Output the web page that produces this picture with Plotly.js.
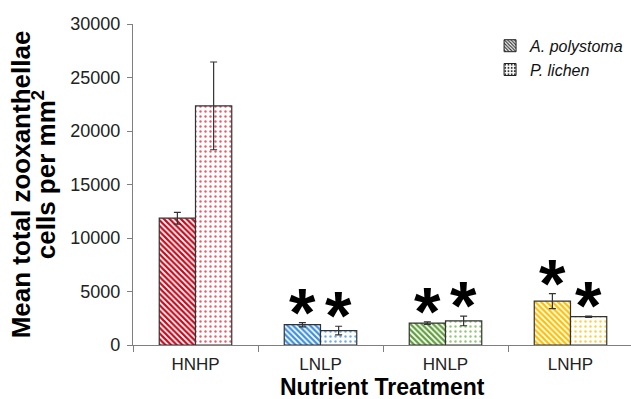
<!DOCTYPE html>
<html>
<head>
<meta charset="utf-8">
<script src="https://cdn.plot.ly/plotly-3.0.1.min.js"></script>
<style>
  html, body { margin: 0; padding: 0; background: #fff; }
  #chart { width: 631px; height: 399px; }
</style>
</head>
<body>
<div id="chart"></div>
<script>
// ---- data ----
const categories = ['HNHP', 'LNLP', 'HNLP', 'LNHP'];
const seriesNames = ['A. polystoma', 'P. lichen'];
const polystomaMean = [11850, 1900, 2050, 4100];
const polystomaErr = [550, 200, 120, 700];
const lichenMean = [22350, 1350, 2250, 2650];
const lichenErr = [4100, 400, 450, 60];
const polystomaSig = [false, true, true, true];
const lichenSig = [false, true, true, true];
const yTickVals = [0, 5000, 10000, 15000, 20000, 25000, 30000];
const yTickText = ['0', '5000', '10000', '15000', '20000', '25000', '30000'];
const xTitle = 'Nutrient Treatment';

// ---- styles ----
const stripeColors = ['#c8081c', '#3d8fe0', '#5f9e3a', '#ffc000'];
const dotColors = ['#ee5a66', '#6aaeee', '#92c872', '#ffcf40'];
const outline = '#333333';
const FONT = 'Liberation Sans, Arial, sans-serif';
const BARGAP = 0.42;

const traces = [
  {
    type: 'bar', name: seriesNames[0], x: categories, y: polystomaMean, showlegend: false,
    marker: {
      color: '#ffffff',
      line: { color: outline, width: 1.2 },
      pattern: { shape: '\\', fgcolor: stripeColors, bgcolor: '#ffffff', size: 4, solidity: 0.55 }
    },
    error_y: { type: 'data', array: polystomaErr, visible: true, color: outline, thickness: 1.2, width: 3.5 }
  },
  {
    type: 'bar', name: seriesNames[1], x: categories, y: lichenMean, showlegend: false,
    marker: {
      color: '#ffffff',
      line: { color: outline, width: 1.2 },
      pattern: { shape: '.', fgcolor: dotColors, bgcolor: '#ffffff', size: 5, solidity: 0.18 }
    },
    error_y: { type: 'data', array: lichenErr, visible: true, color: outline, thickness: 1.2, width: 3.5 }
  },
  // legend-only proxies (grey swatches, drawn off-range on hidden overlay axes)
  {
    type: 'bar', name: seriesNames[0], x: [0.5], y: [1], base: [-3], xaxis: 'x2', yaxis: 'y2',
    marker: { color: '#ffffff', line: { color: '#222', width: 1 },
      pattern: { shape: '\\', fgcolor: '#333333', bgcolor: '#ffffff', size: 3, solidity: 0.5 } }
  },
  {
    type: 'bar', name: seriesNames[1], x: [0.5], y: [1], base: [-3], xaxis: 'x2', yaxis: 'y2',
    marker: { color: '#ffffff', line: { color: '#222', width: 1 },
      pattern: { shape: '.', fgcolor: '#333333', bgcolor: '#ffffff', size: 4, solidity: 0.3 } }
  }
];

// significance stars, positioned from data
const halfW = (1 - BARGAP) / 4;
const annotations = [];
categories.forEach((c, i) => {
  if (polystomaSig[i]) annotations.push({
    x: i - halfW, y: polystomaMean[i] + polystomaErr[i], xref: 'x', yref: 'y',
    text: '*', showarrow: false, yanchor: 'middle', yshift: 11,
    font: { family: FONT, size: 68, color: '#000', weight: 'bold' }
  });
  if (lichenSig[i]) annotations.push({
    x: i + halfW, y: lichenMean[i] + lichenErr[i], xref: 'x', yref: 'y',
    text: '*', showarrow: false, yanchor: 'middle', yshift: 11,
    font: { family: FONT, size: 68, color: '#000', weight: 'bold' }
  });
});
// second line of y-axis title
annotations.push({
  xref: 'paper', yref: 'paper', x: -0.176, y: 0.53, xanchor: 'center', yanchor: 'middle',
  text: 'cells per mm<sup>2</sup>', textangle: -90, showarrow: false,
  font: { family: FONT, size: 26, color: '#000', weight: 'bold' }
});
// x-axis title, set low in the bottom margin as in the reference
annotations.push({
  xref: 'paper', yref: 'paper', x: 0.5, y: -0.168, xanchor: 'center', yanchor: 'bottom',
  yshift: -3, text: xTitle, showarrow: false,
  font: { family: FONT, size: 23, color: '#000', weight: 'bold' }
});

const layout = {
  width: 631, height: 399,
  margin: { l: 133, r: 0, t: 24, b: 54 },
  paper_bgcolor: '#ffffff', plot_bgcolor: '#ffffff',
  barmode: 'group', bargap: BARGAP, bargroupgap: 0,
  font: { family: FONT, color: '#222' },
  showlegend: true,
  legend: {
    x: 0.717, y: 0.985, xanchor: 'left', yanchor: 'top',
    font: { family: FONT, size: 16, color: '#111', style: 'italic' },
    itemwidth: 30, traceorder: 'normal',
    bgcolor: 'rgba(0,0,0,0)'
  },
  xaxis: {
    type: 'category', range: [-0.5, 3.484],
    showline: true, linecolor: '#7f7f7f', linewidth: 1.2,
    ticks: 'outside', tickson: 'boundaries', ticklen: 6, tickcolor: '#7f7f7f',
    tickfont: { family: FONT, size: 17, color: '#222' },
    ticklabelstandoff: 3,
    showgrid: false, zeroline: false
  },
  yaxis: {
    range: [0, 30000], tickvals: yTickVals, ticktext: yTickText,
    showline: true, linecolor: '#7f7f7f', linewidth: 1.2,
    ticks: 'outside', ticklen: 5, tickcolor: '#7f7f7f',
    tickfont: { family: FONT, size: 18, color: '#222' },
    ticklabelstandoff: 3,
    showgrid: false, zeroline: false,
    title: { text: 'Mean total zooxanthellae', standoff: 32,
      font: { family: FONT, size: 26, color: '#000', weight: 'bold' } }
  },
  yaxis3: {
    overlaying: 'y', matches: 'y', range: [0, 30000], tickvals: yTickVals,
    ticks: 'inside', ticklen: 5, tickcolor: '#7f7f7f',
    showticklabels: false, showline: false, showgrid: false, zeroline: false
  },
  xaxis2: { overlaying: 'x', range: [0, 1], visible: false },
  yaxis2: { overlaying: 'y', range: [0, 1], visible: false },
  annotations: annotations
};

Plotly.newPlot('chart', traces, layout, { staticPlot: true, displayModeBar: false });
</script>
</body>
</html>
